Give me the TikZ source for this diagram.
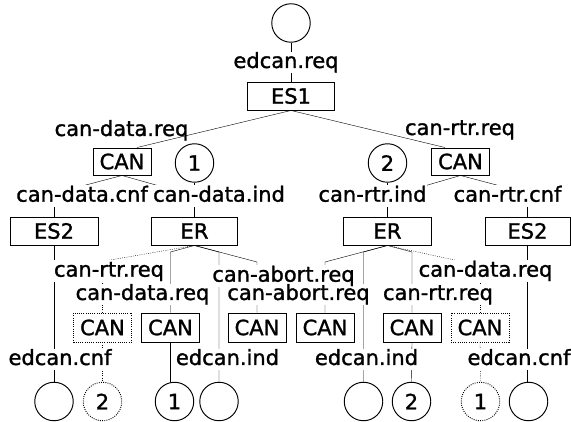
\documentclass[tikz,border=0pt]{standalone}
\usepackage{fontspec}
\setmainfont{DejaVu Sans}
\newfontfamily\labfont{DejaVu Sans}[FakeBold=1.3]
\pgfdeclarelayer{edges}
\pgfdeclarelayer{masks}
\pgfsetlayers{edges,masks,main}
\begin{document}
\begin{tikzpicture}[x=1pt,y=-1pt,line width=0.95pt,
  every node/.style={font=\labfont\fontsize{21}{25}\selectfont},
  lab/.style={inner sep=0pt,anchor=base,text height=16pt,text depth=5pt},
  bigbox/.style={draw,minimum width=87pt,minimum height=28pt,inner sep=0pt},
  canbox/.style={draw,minimum width=58pt,minimum height=29pt,inner sep=0pt},
  circ/.style={draw,circle,minimum size=38.5pt,inner sep=0pt},
  dotline/.style={dash pattern=on 0.9pt off 1.3pt}]
\useasboundingbox (0,0) rectangle (571,422);
% top
\node[circ] (c0) at (291,23) {};
\node[lab] (l0) at (286,68) {edcan.req};
\node[bigbox] (es1) at (291,96) {ES1};
\node[lab] (l1) at (121.5,136) {can-data.req};
\node[lab] (l2) at (460,135) {can-rtr.req};
\node[canbox,minimum height=27pt] (can1) at (122,161.5) {CAN};
\node[circ] (n1) at (194.5,163) {1};
\node[circ] (n2) at (387.5,163) {2};
\node[canbox,minimum height=27pt] (can2) at (460.5,161.5) {CAN};
% row 2 labels
\node[lab] (lcnf1) at (82,201.7) {can-data.cnf};
\node[lab] (lind1) at (219,201.7) {can-data.ind};
\node[lab] (lind2) at (372.5,201.7) {can-rtr.ind};
\node[lab] (lcnf2) at (507.5,201.7) {can-rtr.cnf};
% level 3 boxes
\node[bigbox,minimum width=88pt] (es2a) at (54,231) {ES2};
\node[bigbox,minimum width=86pt] (er1) at (194.5,231) {ER};
\node[bigbox,minimum width=88pt] (er2) at (387.5,231) {ER};
\node[bigbox,minimum width=85pt] (es2b) at (527.5,231) {ES2};
% middle labels
\node[lab] (m1) at (109,276.7) {can-rtr.req};
\node[lab] (m2) at (142.5,300) {can-data.req};
\node[lab] (m3) at (283.5,281.7) {can-abort.req};
\node[lab] (m4) at (298.5,300) {can-abort.req};
\node[lab] (m5) at (485.5,276.7) {can-data.req};
\node[lab] (m6) at (438,300) {can-rtr.req};
% CAN row
\node[canbox,dotline] (k1) at (102.5,327.5) {CAN};
\node[canbox] (k2) at (170.5,327.5) {CAN};
\node[canbox] (k3) at (257,327.5) {CAN};
\node[canbox] (k4) at (325,327.5) {CAN};
\node[canbox] (k5) at (412,327.5) {CAN};
\node[canbox,dotline] (k6) at (480,327.5) {CAN};
% bottom labels
\node[lab] (e1) at (60,365) {edcan.cnf};
\node[lab] (e2) at (227.5,365) {edcan.ind};
\node[lab] (e3) at (366.5,365) {edcan.ind};
\node[lab] (e4) at (519,365) {edcan.cnf};
% bottom circles
\node[circ] (o1) at (54,401.5) {};
\node[circ,dotline] (o2) at (102.5,401.5) {2};
\node[circ] (o3) at (174.5,401.5) {1};
\node[circ] (o4) at (219,401.5) {};
\node[circ] (o5) at (363.5,401.5) {};
\node[circ] (o6) at (411.5,401.5) {2};
\node[circ,dotline] (o7) at (480.5,401.5) {1};
\node[circ] (o8) at (528.5,401.5) {};
% corners
\coordinate (p1) at (170.5,252);
\coordinate (p2) at (219,252);
\coordinate (p3) at (257,262);
\coordinate (p4) at (325,262);
\coordinate (p5) at (363.5,252);
\coordinate (p6) at (412,252);
\begin{pgfonlayer}{masks}
\foreach \n in {l0,lcnf1,lind1,lind2,lcnf2,m1,m2,m3,m4,m5,m6,e1,e2,e3,e4}
  {\fill[white] (\n.south west) rectangle (\n.north east);}
\end{pgfonlayer}
\begin{pgfonlayer}{edges}
\draw (c0.south) -- (es1.north);
\draw (es1.south) -- ([xshift=15pt]can1.north);
\draw (es1.south) -- ([xshift=-15.5pt]can2.north);
\draw (can1.south) -- ([xshift=3pt]lcnf1.north);
\draw (can1.south) -- ([xshift=4pt]lind1.north west);
\draw (n1.south) -- (er1.north);
\draw (es2a.north) -- (es2a.north |- lcnf1.base);
\draw (can2.south) -- (lind2.north east);
\draw (can2.south) -- ([xshift=-10pt]lcnf2.north);
\draw (n2.south) -- (er2.north);
\draw (es2b.north) -- (es2b.north |- lcnf2.base);
% ER left
\draw[dotline] (er1.south) -- (m1.north);
\draw[dotline] (k1.north) -- (k1.north |- m1.base);
\draw (er1.south) -- (p1) -- (k2.north);
\draw (er1.south) -- (p2) -- (o4.north);
\draw (er1.south) -- (p3) -- (k3.north);
% ER right
\draw (er2.south) -- (p4) -- (k4.north);
\draw (er2.south) -- (p5) -- (o5.north);
\draw (er2.south) -- (p6) -- (k5.north);
\draw[dotline] (er2.south) -- ([xshift=-30pt]m5.north);
\draw[dotline] (k6.north) -- (k6.north |- m5.base);
% bottom
\draw (es2a.south) -- (o1.north);
\draw[dotline] (k1.south) -- (o2.north);
\draw (k2.south) -- (k2.south |- o3.north);
\draw (k5.south) -- (o6.north);
\draw[dotline] (k6.south) -- (o7.north);
\draw (es2b.south) -- (es2b.south |- o8.north);
\end{pgfonlayer}
\end{tikzpicture}
\end{document}
